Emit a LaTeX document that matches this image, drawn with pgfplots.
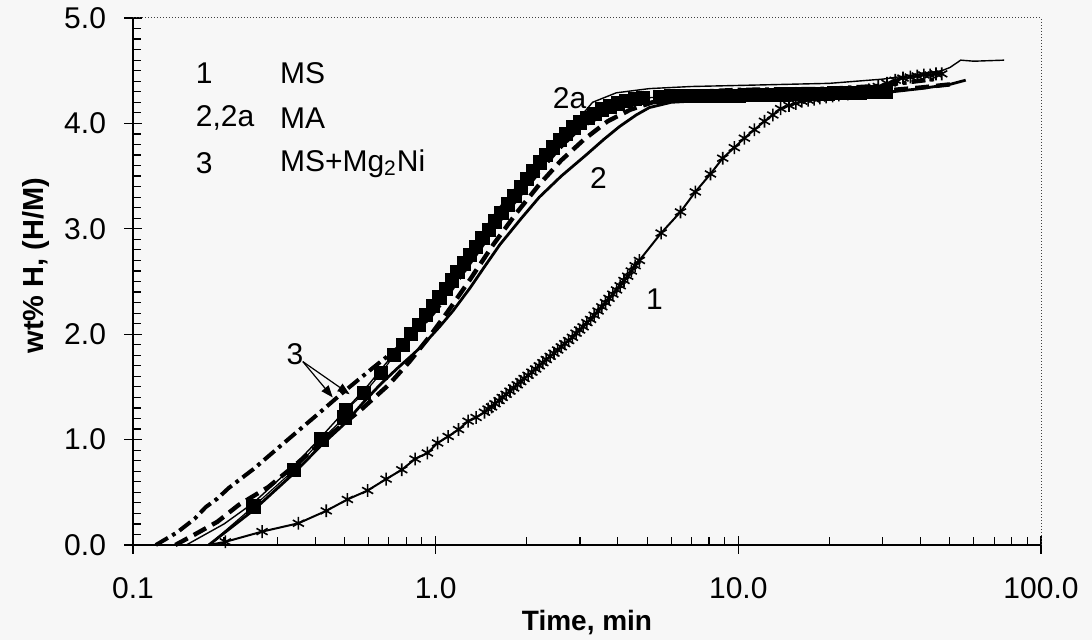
\documentclass[border=0pt]{standalone}
\usepackage{fontspec}
\setmainfont{Liberation Sans}
\usepackage{pgfplots}
\pgfplotsset{compat=1.18}
\usetikzlibrary{arrows.meta,backgrounds}
\definecolor{bg}{HTML}{F7F7F7}

\begin{document}
\begin{tikzpicture}
\begin{axis}[
  scale only axis, width=454pt, height=263.5pt,
  xmode=log, xmin=0.1, xmax=100, ymin=0, ymax=5,
  clip=false,
  axis x line*=bottom, axis y line*=left,
  axis line style={line width=0.6pt},
  xtick={0.1,1,10,100}, xticklabels={0.1,1.0,10.0,100.0},
  minor xtick={0.2,0.3,0.4,0.5,0.6,0.7,0.8,0.9,2,3,4,5,6,7,8,9,20,30,40,50,60,70,80,90},
  ytick={0,1,2,3,4,5}, yticklabels={0.0,1.0,2.0,3.0,4.0,5.0},
  minor y tick num=9,
  tick align=center, major tick length=9pt, minor tick length=4pt,
  minor x tick style={yshift=2pt}, minor y tick style={xshift=2pt},
  tick style={black, line width=0.6pt},
  ticklabel style={font=\fontsize{15}{18}\selectfont},
  xticklabel style={yshift=-8pt},
  yticklabel style={xshift=-5.5pt},
  xlabel={Time, min},
  xlabel style={font=\fontsize{14}{17}\selectfont\bfseries, at={(axis description cs:0.5,-0.148)}, anchor=center},
  ylabel={wt\% H, (H/M)},
  ylabel style={font=\fontsize{14.5}{17}\selectfont\bfseries, at={(axis description cs:-0.107,0.53)}, anchor=center},
]
% frame top/right
\draw[black!75, densely dotted, line width=0.5pt] (rel axis cs:0,1) -- (rel axis cs:1,1) -- (rel axis cs:1,0);

% curve 3, dash-dot
\addplot[black, line width=2pt, dash pattern={on 7pt off 2.5pt on 1.8pt off 2.5pt}] coordinates {
(0.119,0) (0.14,0.12) (0.16,0.25) (0.174,0.36) (0.19,0.44) (0.207,0.54) (0.25,0.72)
(0.31,0.95) (0.40,1.22) (0.50,1.46) (0.62,1.68) (0.79,1.92) (0.95,2.15) (1.07,2.33)
(1.3,2.68) (1.63,3.08) (2.0,3.40) (2.5,3.73) (3.0,3.96) (4,4.16) (5,4.25) (7,4.30)
(10,4.32) (20,4.33) (30,4.36) (45,4.42)
};

% curve 3, dashed
\addplot[black, line width=2.2pt, dash pattern={on 7pt off 3.5pt}] coordinates {
(0.138,0) (0.16,0.1) (0.19,0.22) (0.2235,0.38) (0.28,0.55) (0.344,0.76) (0.45,1.05)
(0.57,1.29) (0.70,1.52) (0.82,1.74) (0.95,1.97) (1.1,2.22) (1.3,2.52) (1.55,2.85)
(1.85,3.15) (2.2,3.42) (2.6,3.65) (3.1,3.85) (3.7,4.02) (4.4,4.13) (5.2,4.20) (7,4.24)
(10,4.26) (20,4.28) (30,4.31) (40,4.34) (50,4.37)
};

% curve 2, solid
\addplot[black, line width=1.4pt] coordinates {
(0.178,0) (0.25,0.33) (0.34,0.68) (0.42,0.95) (0.50,1.15) (0.58,1.36) (0.66,1.53)
(0.75,1.68) (0.85,1.82) (0.93,1.93) (1.03,2.07) (1.14,2.22) (1.30,2.44)
(1.45,2.64) (1.63,2.85) (1.92,3.10) (2.20,3.30) (2.60,3.50) (3.14,3.70) (3.60,3.85)
(4.05,3.97) (4.60,4.08) (5.08,4.15) (6,4.20) (8,4.22) (12,4.24) (20,4.26) (30,4.29)
(40,4.33) (50,4.37) (56.4,4.41)
};

% curve 2a, thin solid
\addplot[black, line width=0.7pt] coordinates {
(0.15,0) (0.2,0.2) (0.25,0.40) (0.34,0.75) (0.42,1.03) (0.5,1.27) (0.6,1.52) (0.73,1.82)
(0.9,2.15) (1.1,2.5) (1.3,2.8) (1.6,3.18) (2.0,3.52) (2.4,3.78) (2.84,3.98) (3.30,4.20)
(3.95,4.29) (5.08,4.33) (7,4.35) (10,4.36) (20,4.38) (30,4.42) (40,4.47) (47,4.50)
(50,4.53) (54.3,4.60) (60,4.59) (75.5,4.60)
};

% squares
\addplot[black, line width=0.6pt] coordinates {(0.14,0) (0.178,0) (0.25,0.365)};
\addplot[black, line width=0.6pt, mark=square*, mark size=3.3pt] coordinates {
(0.25,0.365) (0.34,0.71) (0.42,1.00) (0.50,1.21) (0.505,1.28) (0.58,1.44) (0.66,1.63)
(0.73,1.80) (0.78,1.90) (0.83,2.00) (0.88,2.09) (0.93,2.18) (0.98,2.27) (1.03,2.35)
(1.08,2.43) (1.13,2.51) (1.18,2.59) (1.24,2.67) (1.30,2.75) (1.36,2.83) (1.43,2.91)
(1.50,2.99) (1.57,3.07) (1.65,3.15) (1.73,3.23) (1.82,3.31) (1.91,3.39) (2.00,3.47)
(2.10,3.55) (2.21,3.63) (2.32,3.70) (2.44,3.77) (2.57,3.84) (2.70,3.90) (2.85,3.96)
(3.00,4.01) (3.17,4.05) (3.35,4.09) (3.55,4.13) (3.77,4.16) (4.00,4.19) (4.25,4.21)
(4.55,4.23) (4.85,4.24) (5.5,4.25) (6.0,4.26) (6.5,4.26) (7.2,4.26) (7.8,4.26)
(8.2,4.26) (8.6,4.26) (9.0,4.26) (9.5,4.26) (10,4.26) (10.5,4.27) (11,4.27) (11.6,4.27)
(12.2,4.27) (12.8,4.27) (13.4,4.27) (14.1,4.27) (14.8,4.28) (15.5,4.28) (16.3,4.28)
(17.1,4.28) (18,4.28) (18.9,4.28) (19.8,4.28) (20.8,4.29) (21.8,4.29) (22.9,4.29)
(24,4.29) (25.2,4.29) (26.5,4.30) (27.8,4.30) (29.2,4.30) (30.6,4.30)
};

% curve 1, asterisks
\addplot[black, line width=1pt] coordinates {(0.178,0) (0.202,0.03)};
\addplot[black, line width=1pt, mark=asterisk, mark size=3.2pt, mark options={line width=0.8pt}] coordinates {
(0.202,0.03) (0.267,0.127) (0.352,0.206) (0.435,0.324) (0.511,0.432) (0.596,0.517)
(0.686,0.625) (0.773,0.714) (0.855,0.816) (0.939,0.873) (1.015,0.968) (1.10,1.03)
(1.19,1.095) (1.28,1.175) (1.36,1.21)
(1.45,1.26) (1.49,1.29) (1.53,1.31) (1.57,1.34) (1.62,1.37) (1.66,1.40) (1.71,1.43)
(1.76,1.46) (1.81,1.49) (1.86,1.52) (1.91,1.55) (1.96,1.58) (2.02,1.61) (2.08,1.64)
(2.14,1.67) (2.20,1.70) (2.26,1.73) (2.32,1.76) (2.39,1.79) (2.46,1.82) (2.53,1.85)
(2.60,1.88) (2.67,1.91) (2.75,1.94) (2.83,1.97) (2.91,2.01) (2.99,2.04) (3.07,2.07)
(3.16,2.11) (3.25,2.14) (3.34,2.18) (3.44,2.22) (3.54,2.26) (3.64,2.30) (3.74,2.34)
(3.85,2.38) (3.96,2.42) (4.07,2.46) (4.19,2.51) (4.31,2.55) (4.43,2.60) (4.56,2.65)
(4.71,2.70)
(5.56,2.96) (6.44,3.16) (7.21,3.35) (8.09,3.52) (8.88,3.67) (9.70,3.77) (10.47,3.86)
(11.3,3.94) (12.2,4.02) (13.0,4.08) (13.8,4.14) (14.7,4.17) (15.5,4.19) (16.2,4.21)
(17.0,4.22) (17.8,4.23) (18.6,4.24) (19.5,4.25) (20.5,4.26) (21.5,4.27) (23,4.28)
(25,4.30) (27,4.32) (29,4.35) (31,4.38) (33,4.41) (35,4.43) (37,4.44) (39,4.45)
(41,4.46) (43,4.46) (45,4.47) (47,4.47)
};

% legend text
\node[anchor=west, font=\fontsize{15}{18}\selectfont] at (axis cs:0.153,4.48) {1};
\node[anchor=west, font=\fontsize{15}{18}\selectfont] at (axis cs:0.29,4.48) {MS};
\node[anchor=west, font=\fontsize{15}{18}\selectfont] at (axis cs:0.153,4.05) {2,2a};
\node[anchor=west, font=\fontsize{15}{18}\selectfont] at (axis cs:0.29,4.05) {MA};
\node[anchor=west, font=\fontsize{15}{18}\selectfont] at (axis cs:0.153,3.62) {3};
\node[anchor=west, font=\fontsize{15}{18}\selectfont] at (axis cs:0.29,3.62) {MS+Mg\textsubscript{2}Ni};

% curve labels
\node[font=\fontsize{15}{18}\selectfont] at (axis cs:2.77,4.24) {2a};
\node[font=\fontsize{15}{18}\selectfont] at (axis cs:3.45,3.48) {2};
\node[font=\fontsize{15}{18}\selectfont] at (axis cs:5.28,2.33) {1};
\node[font=\fontsize{15}{18}\selectfont] at (axis cs:0.343,1.81) {3};
\draw[line width=0.6pt, -{Triangle[length=6pt,width=4.5pt]}] (axis cs:0.364,1.74) -- (axis cs:0.457,1.40);
\draw[line width=0.6pt, -{Triangle[length=6pt,width=4.5pt]}] (axis cs:0.364,1.74) -- (axis cs:0.52,1.43);
\end{axis}
\begin{pgfonlayer}{background}
\fill[bg] ([shift={(-66.5pt,-47.5pt)}]current axis.south west) rectangle ([shift={(25.5pt,9pt)}]current axis.north east);
\end{pgfonlayer}
\end{tikzpicture}
\end{document}
